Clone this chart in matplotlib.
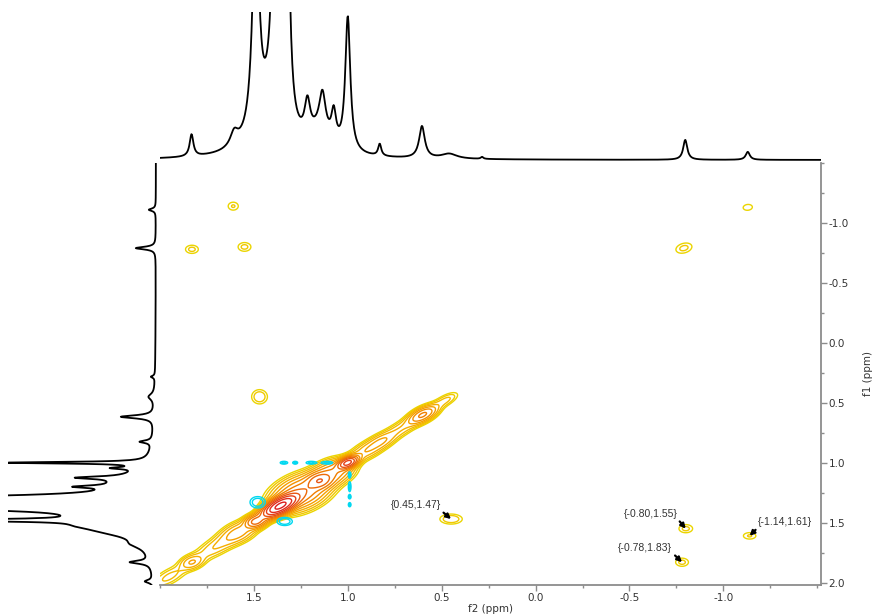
import numpy as np
import matplotlib
matplotlib.use('Agg')
import matplotlib.pyplot as plt
from matplotlib.ticker import MultipleLocator, FixedLocator, FormatStrFormatter

plt.rcParams['axes.unicode_minus'] = False
plt.rcParams['font.family'] = ['DejaVu Sans']

# 1D projection along f2 (top): shift, height, half-width
top_shift = [1.832, 1.605, 1.49, 1.385, 1.325, 1.42, 1.215, 1.135, 1.075, 1.15, 1.00, 0.83, 0.605, 0.46, 0.285, -0.797, -1.13]
top_height = [22, 14, 230, 280, 300, 32, 34, 38, 30, 20, 135, 12, 32, 5, 2, 20, 8]
top_width = [0.012, 0.025, 0.02, 0.02, 0.015, 0.10, 0.018, 0.02, 0.015, 0.07, 0.016, 0.01, 0.018, 0.05, 0.008, 0.013, 0.013]

# 1D projection along f1 (left)
left_shift = [-1.11, -0.79, 0.283, 0.45, 0.617, 0.825, 1.00, 1.045, 1.125, 1.20, 1.15, 1.30, 1.37, 1.48, 1.45, 1.53, 1.58, 1.68, 1.83, 1.99]
left_height = [7, 20, 4, 6, 33, 12, 140, 25, 45, 38, 25, 250, 250, 180, 40, 30, 20, 10, 20, 8]
left_width = [0.012, 0.013, 0.01, 0.03, 0.015, 0.012, 0.008, 0.01, 0.012, 0.012, 0.08, 0.025, 0.025, 0.01, 0.10, 0.04, 0.05, 0.04, 0.015, 0.015]

# diagonal peaks: shift, amplitude, sigma along / across the diagonal
diag_shift = [1.95, 1.83, 1.70, 1.58, 1.49, 1.36, 1.25, 1.15, 1.08, 1.00, 0.90, 0.82, 0.72, 0.60, 0.48, -0.79, -1.13]
diag_amp = [3, 6, 4, 8, 30, 200, 25, 30, 16, 80, 6, 5, 4, 18, 3, 1.9, 1.4]
diag_along = [0.06, 0.03, 0.07, 0.05, 0.025, 0.045, 0.07, 0.03, 0.05, 0.025, 0.05, 0.04, 0.06, 0.04, 0.04, 0.03, 0.022]
diag_across = [0.05, 0.045, 0.055, 0.06, 0.04, 0.04, 0.09, 0.05, 0.07, 0.03, 0.05, 0.045, 0.045, 0.04, 0.035, 0.045, 0.04]

# cross peaks (f2, f1), mirrored about the diagonal
cross_f2 = [0.45, -0.80, -0.78, -1.14]
cross_f1 = [1.47, 1.55, 1.83, 1.61]
cross_amp = [2.5, 1.9, 1.9, 1.7]
cross_w2 = [0.044, 0.032, 0.03, 0.032]
cross_w1 = [0.031, 0.03, 0.03, 0.026]

# negative (t1 noise) features
neg_f2 = [1.34, 1.28, 1.195, 1.11, 0.99, 0.99, 0.99, 0.99, 1.48, 1.336]
neg_f1 = [1.00, 1.00, 1.00, 1.00, 1.10, 1.20, 1.285, 1.35, 1.33, 1.49]
neg_amp = [2, 2, 2, 2, 2, 2, 2, 2, 2.5, 2.5]
neg_w2 = [0.017, 0.011, 0.023, 0.025, 0.006, 0.006, 0.006, 0.006, 0.03, 0.03]
neg_w1 = [0.01, 0.01, 0.01, 0.01, 0.021, 0.035, 0.014, 0.015, 0.035, 0.025]

labels = ['{0.45,1.47}', '{-0.80,1.55}', '{-0.78,1.83}', '{-1.14,1.61}']
label_pos = [(0.505, 1.355), (-0.755, 1.425), (-0.728, 1.71), (-1.186, 1.495)]
label_ha = ['right', 'right', 'right', 'left']
label_rel = [(1.0, 0.0), (1.0, 0.0), (1.0, 0.0), (0.0, 0.0)]

x_ticks = [1.5, 1.0, 0.5, 0.0, -0.5, -1.0]
y_ticks = [-1.0, -0.5, 0.0, 0.5, 1.0, 1.5, 2.0]

level_colors = ['#EBD500', '#F0C800', '#F3BB00', '#F5AE00', '#F5A000', '#F39000',
                '#F07E00', '#EC6A0A', '#E85514', '#E4401A', '#E02E1E', '#DC1E1E']

F2_LIM = (2.0, -1.52)
F1_LIM = (2.02, -1.5)


def lorentz(x, shifts, heights, widths):
    y = np.zeros_like(x)
    for c, h, w in zip(shifts, heights, widths):
        y += h / (1 + ((x - c) / w) ** 2)
    return y


def gauss2d(X, Y, c2, c1, a, s2, s1):
    return a * np.exp(-0.5 * ((X - c2) / s2) ** 2 - 0.5 * ((Y - c1) / s1) ** 2)


f2 = np.linspace(F2_LIM[0], F2_LIM[1], 1200)
f1 = np.linspace(F1_LIM[0], F1_LIM[1], 1200)
X, Y = np.meshgrid(f2, f1)

Zpos = np.zeros_like(X)
U = (X + Y) / 2
V = X - Y
for c, a, su, sv in zip(diag_shift, diag_amp, diag_along, diag_across):
    Zpos += a * np.exp(-0.5 * ((U - c) / su) ** 2 - 0.5 * (V / sv) ** 2)
for c2, c1, a, s2, s1 in zip(cross_f2, cross_f1, cross_amp, cross_w2, cross_w1):
    Zpos += gauss2d(X, Y, c2, c1, a, s2, s1)
    Zpos += gauss2d(X, Y, c1, c2, a, s1, s2)
Zneg = np.zeros_like(X)
for c2, c1, a, s2, s1 in zip(neg_f2, neg_f1, neg_amp, neg_w2, neg_w1):
    Zneg += gauss2d(X, Y, c2, c1, a, s2, s1)

levels = [1.6 ** k for k in range(len(level_colors))]

W, H = 875, 616


def box(x0, y0, x1, y1):
    return [x0 / W, 1 - y1 / H, (x1 - x0) / W, (y1 - y0) / H]


fig = plt.figure(figsize=(8.75, 6.16), dpi=100)
ax = fig.add_axes(box(160, 163, 821, 585))
axt = fig.add_axes(box(160, 12, 821, 163), sharex=ax)
axl = fig.add_axes(box(8, 163, 158, 585), sharey=ax)

ax.contour(X, Y, Zpos, levels=levels, colors=level_colors, linewidths=1.0)
ax.contour(X, Y, Zneg, levels=[1.0, 1.6], colors='#00D8F0', linewidths=1.0)

for text, pos, ha, rel, c2, c1 in zip(labels, label_pos, label_ha, label_rel, cross_f2, cross_f1):
    ax.annotate(text, xy=(c2, c1), xytext=pos, ha=ha, va='center',
                fontsize=7.5, color='#333333', family='Liberation Sans',
                arrowprops=dict(arrowstyle='-|>', color='black', lw=1.6,
                                mutation_scale=7, shrinkA=0, shrinkB=0, relpos=rel))

ax.set_xlim(*F2_LIM)
ax.set_ylim(*F1_LIM)
for side in ['left', 'top']:
    ax.spines[side].set_visible(False)
for side in ['bottom', 'right']:
    ax.spines[side].set_color('#8c8c8c')
    ax.spines[side].set_linewidth(1.3)
ax.yaxis.tick_right()
ax.yaxis.set_label_position('right')
ax.xaxis.set_major_locator(FixedLocator(x_ticks))
ax.xaxis.set_minor_locator(MultipleLocator(0.25))
ax.yaxis.set_major_locator(FixedLocator(y_ticks))
ax.yaxis.set_minor_locator(MultipleLocator(0.25))
ax.xaxis.set_major_formatter(FormatStrFormatter('%.1f'))
ax.yaxis.set_major_formatter(FormatStrFormatter('%.1f'))
ax.tick_params(which='major', length=4, width=1, color='#8c8c8c', labelsize=7.5,
               labelcolor='#333333', pad=1.5)
ax.tick_params(which='minor', length=2.5, width=1, color='#8c8c8c')
ax.set_xlabel('f2 (ppm)', fontsize=7.5, color='#333333', labelpad=1)
ax.set_ylabel('f1 (ppm)', fontsize=7.5, color='#333333', labelpad=10)

# projections
axt.plot(f2, lorentz(f2, top_shift, top_height, top_width), color='black', lw=1.3)
axt.set_ylim(-3, 148)
axt.axis('off')

axl.plot(lorentz(f1, left_shift, left_height, left_width), f1, color='black', lw=1.3)
axl.set_xlim(148, -2)
axl.axis('off')

fig.savefig('out.png', dpi=100)
